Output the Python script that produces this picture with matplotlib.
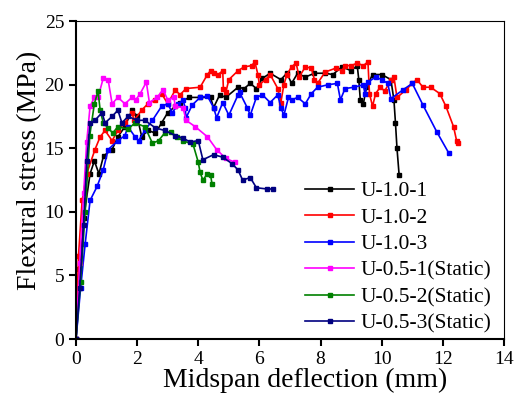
import matplotlib
matplotlib.use('Agg')
import matplotlib.pyplot as plt

plt.rcParams['font.family'] = ['Liberation Serif', 'DejaVu Serif']

# U-1.0-1
x1 = [0, 0.1, 0.25, 0.46, 0.6, 0.75, 0.9, 1.18, 1.37, 1.6, 1.83, 2.0, 2.15, 2.35, 2.6, 2.8,
      3.0, 3.25, 3.4, 3.7, 4.06, 4.4, 4.5, 4.7, 4.9, 5.3, 5.5, 5.7, 5.9, 6.1, 6.35, 6.7,
      6.9, 7.05, 7.25, 7.5, 7.8, 8.15, 8.4, 8.7, 9.0, 9.2, 9.25, 9.3, 9.4, 9.5, 9.7, 10.0,
      10.3, 10.4, 10.45, 10.5, 10.57]
y1 = [0, 5.5, 9.5, 13.0, 14.0, 13.0, 14.4, 14.9, 15.9, 16.7, 18.0, 17.5, 15.9, 16.4, 16.2, 17.0,
      17.8, 18.3, 18.6, 19.0, 19.0, 19.0, 18.2, 19.2, 19.0, 19.8, 19.7, 20.1, 19.7, 20.5, 20.9, 20.4,
      20.9, 20.1, 20.9, 20.6, 20.9, 20.9, 20.8, 21.4, 21.1, 21.5, 20.4, 18.8, 18.5, 19.8, 20.8, 20.8,
      20.4, 18.8, 17.0, 15.0, 12.9]

# U-1.0-2
x2 = [0, 0.08, 0.2, 0.35, 0.62, 0.79, 0.95, 1.18, 1.37, 1.6, 1.83, 1.9, 2.15, 2.35, 2.6, 2.8,
      3.0, 3.25, 3.4, 3.6, 4.06, 4.3, 4.4, 4.5, 4.65, 4.8, 4.82, 4.9, 5.0, 5.3, 5.5, 5.75,
      5.85, 5.95, 6.0, 6.2, 6.35, 6.6, 6.7, 6.8, 6.9, 7.05, 7.2, 7.3, 7.5, 7.7, 7.8, 7.9,
      8.15, 8.5, 8.7, 8.8, 9.0, 9.2, 9.4, 9.55, 9.6, 9.7, 9.8, 9.95, 10.1, 10.3, 10.4, 10.5,
      10.8, 11.0, 11.15, 11.35, 11.6, 11.9, 12.1, 12.35, 12.45, 12.5]
y2 = [0, 6.5, 10.9, 13.0, 14.9, 15.9, 16.4, 15.6, 16.4, 17.0, 17.8, 17.2, 18.0, 18.5, 18.8, 19.3,
      18.5, 19.6, 19.2, 19.7, 19.8, 20.8, 21.1, 20.9, 20.8, 21.1, 19.7, 19.4, 20.4, 21.1, 21.4, 21.5,
      21.8, 20.8, 20.0, 20.4, 20.8, 19.7, 18.6, 20.0, 20.8, 21.4, 21.7, 20.6, 21.4, 21.3, 20.4, 20.1,
      21.0, 21.3, 21.1, 21.5, 21.5, 21.7, 21.5, 21.8, 19.3, 18.3, 19.3, 19.8, 19.5, 20.4, 20.6, 19.0,
      19.6, 20.1, 20.4, 19.8, 19.8, 19.3, 18.3, 16.7, 15.6, 15.4]

# U-1.0-3
x3 = [0, 0.15, 0.3, 0.46, 0.69, 0.89, 1.05, 1.37, 1.6, 1.7, 1.93, 2.05, 2.25, 2.5, 2.8, 3.0,
      3.15, 3.35, 3.5, 3.57, 3.6, 3.8, 4.06, 4.3, 4.5, 4.6, 4.8, 5.0, 5.3, 5.35, 5.6, 5.7,
      5.9, 6.1, 6.35, 6.6, 6.7, 6.8, 6.95, 7.05, 7.25, 7.5, 7.7, 7.9, 8.25, 8.55, 8.65, 8.8,
      9.1, 9.4, 9.45, 9.55, 9.8, 10.0, 10.2, 10.3, 10.7, 11.0, 11.35, 11.8, 12.2]
y3 = [0, 4.0, 7.5, 10.9, 12.0, 13.3, 14.9, 15.6, 16.0, 16.7, 15.9, 15.6, 16.4, 17.2, 18.3, 18.5,
      17.8, 18.5, 18.8, 18.2, 17.4, 18.4, 19.0, 19.1, 18.2, 17.4, 18.6, 17.6, 19.2, 19.4, 18.2, 17.6,
      19.0, 19.2, 18.6, 19.2, 18.2, 17.6, 19.0, 18.8, 19.0, 18.5, 19.3, 19.8, 20.0, 20.1, 18.8, 19.7,
      19.8, 20.0, 19.3, 20.2, 20.6, 20.4, 20.1, 18.9, 19.6, 20.1, 18.4, 16.3, 14.6]

# U-0.5-1(Static)
x4 = [0, 0.12, 0.25, 0.35, 0.46, 0.6, 0.72, 0.89, 1.05, 1.18, 1.37, 1.6, 1.83, 1.95, 2.1, 2.3,
      2.4, 2.65, 2.85, 3.0, 3.2, 3.25, 3.5, 3.6, 3.9, 4.3, 4.6, 4.9, 5.2]
y4 = [0, 6.0, 11.5, 15.5, 18.3, 19.0, 19.0, 20.5, 20.4, 18.5, 19.0, 18.5, 19.0, 18.8, 19.3, 20.2,
      18.6, 19.0, 19.6, 18.8, 19.0, 18.3, 18.2, 17.2, 16.7, 15.9, 14.9, 14.2, 13.9]

# U-0.5-2(Static)
x5 = [0, 0.15, 0.3, 0.45, 0.6, 0.72, 0.79, 0.89, 1.05, 1.2, 1.37, 1.7, 1.93, 2.25, 2.5, 2.7,
      2.9, 3.1, 3.3, 3.5, 3.83, 4.0, 4.06, 4.15, 4.3, 4.4, 4.45]
y5 = [0, 4.5, 10.0, 16.0, 18.5, 19.5, 18.0, 17.0, 16.6, 16.2, 16.7, 16.5, 17.0, 16.7, 15.4, 15.6,
      16.2, 16.3, 15.9, 15.6, 15.3, 13.9, 13.1, 12.5, 13.0, 12.9, 12.2]

# U-0.5-3(Static)
x6 = [0, 0.12, 0.25, 0.35, 0.46, 0.62, 0.85, 0.95, 1.18, 1.37, 1.5, 1.7, 2.0, 2.25, 2.6, 2.9,
      3.25, 3.5, 3.73, 4.0, 4.15, 4.5, 4.8, 5.1, 5.3, 5.45, 5.7, 5.9, 6.25, 6.45]
y6 = [0, 4.0, 9.0, 14.0, 17.0, 17.2, 17.8, 17.0, 17.5, 18.0, 17.0, 17.5, 17.2, 17.2, 16.6, 16.4,
      16.0, 15.8, 15.5, 15.6, 14.1, 14.5, 14.3, 13.8, 13.3, 12.5, 12.7, 11.9, 11.8, 11.8]

labels = ['U-1.0-1', 'U-1.0-2', 'U-1.0-3', 'U-0.5-1(Static)', 'U-0.5-2(Static)', 'U-0.5-3(Static)']
colors = ['black', 'red', 'blue', 'magenta', 'green', 'navy']
xs = [x1, x2, x3, x4, x5, x6]
ys = [y1, y2, y3, y4, y5, y6]

fig = plt.figure(figsize=(5.15, 3.98), dpi=100)
ax = fig.add_axes([0.1476, 0.148, 0.831, 0.799])

for x, y, c, lab in zip(xs, ys, colors, labels):
    ax.plot(x, y, color=c, lw=1.2, marker='s', ms=2.2, label=lab)

ax.set_xlim(0, 14)
ax.set_ylim(0, 25)
ax.set_xticks(range(0, 15, 2))
ax.set_yticks(range(0, 26, 5))
ax.tick_params(labelsize=14, direction='out', length=5, width=1.5)
for s in ['left', 'bottom']:
    ax.spines[s].set_linewidth(1.5)
ax.set_xlabel('Midspan deflection (mm)', fontsize=20, labelpad=0)
ax.set_ylabel('Flexural stress (MPa)', fontsize=20, labelpad=2)
ax.xaxis.label.set_x(0.535)
ax.yaxis.label.set_y(0.53)

ax.legend(loc='lower right', bbox_to_anchor=(0.984, 0), frameon=False, fontsize=15.5,
          handlelength=2.3, labelspacing=0.3, borderaxespad=0.0, borderpad=0.25,
          handletextpad=0.3)

fig.savefig('out.png', dpi=100)
